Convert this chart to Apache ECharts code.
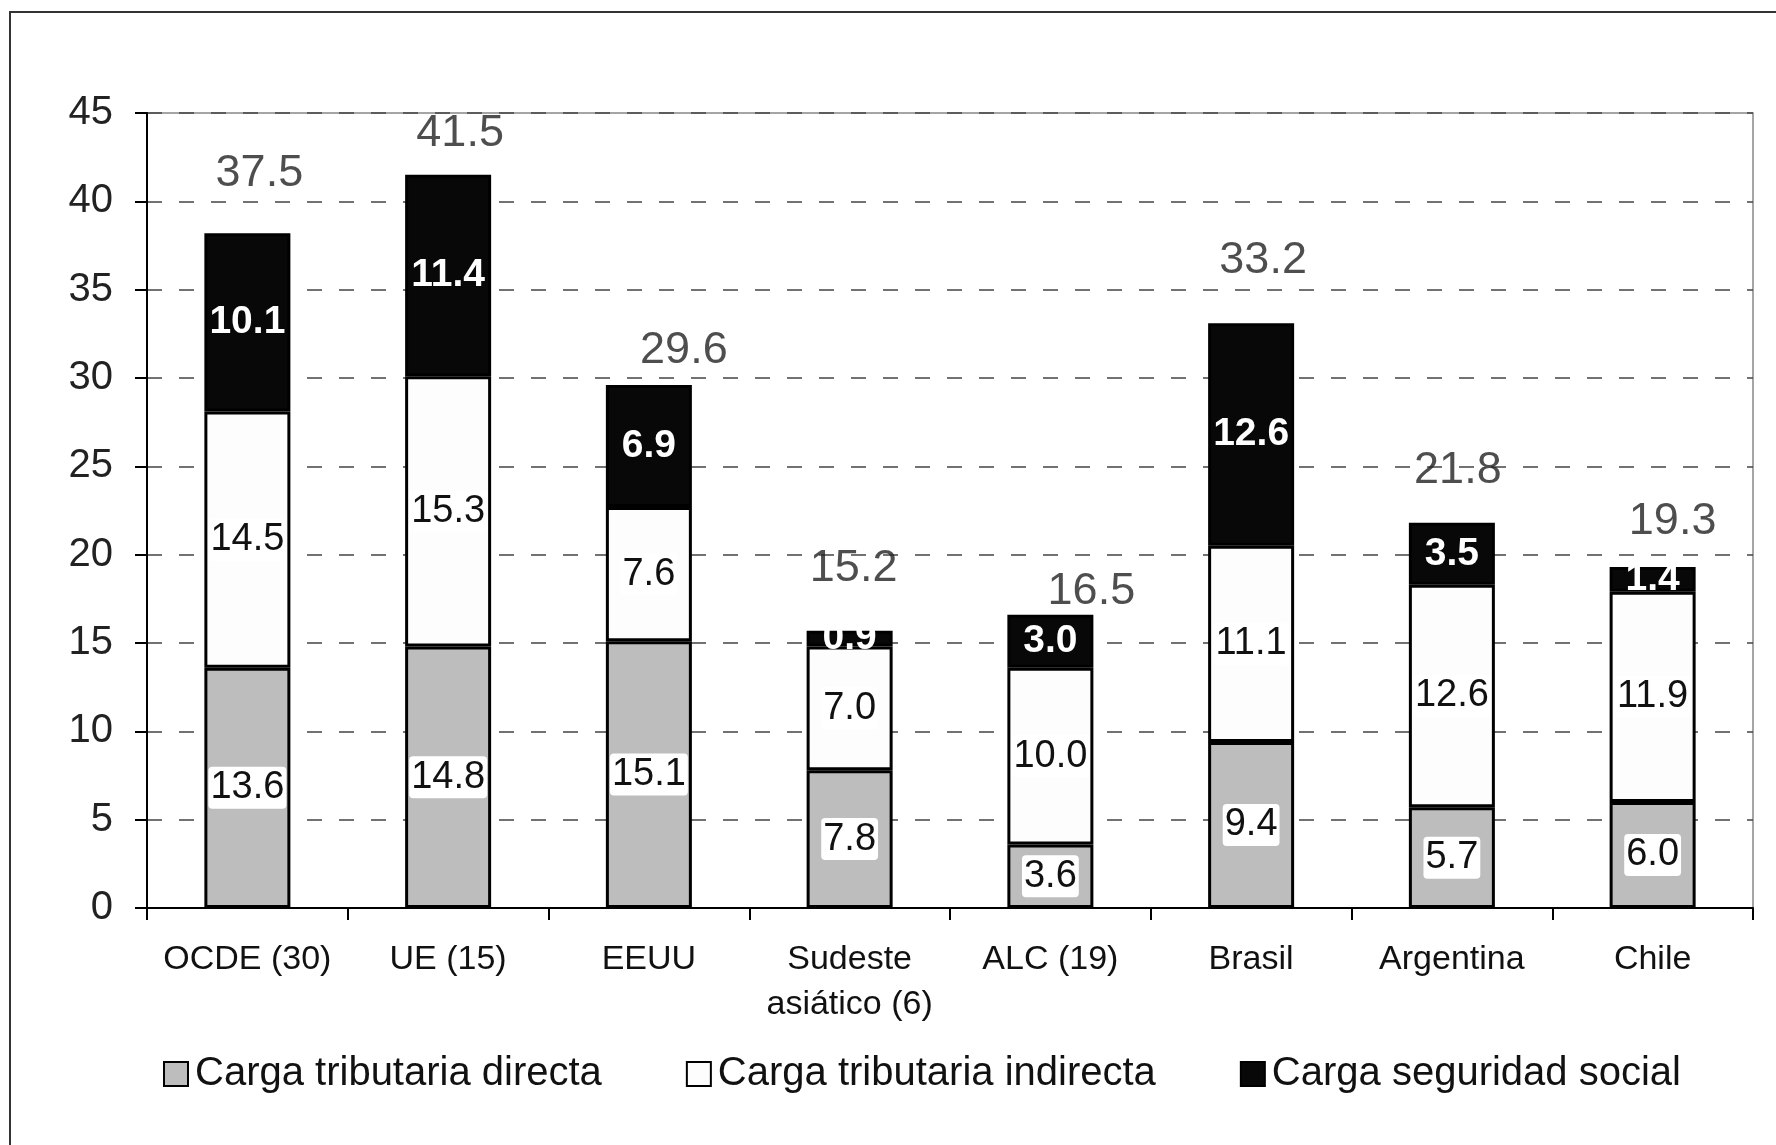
<!DOCTYPE html>
<html>
<head>
<meta charset="utf-8">
<script src="https://cdn.jsdelivr.net/npm/echarts@6/dist/echarts.min.js"></script>
<style>
  html, body { margin: 0; padding: 0; background: #fff; }
  #main { width: 1776px; height: 1145px; }
</style>
</head>
<body>
<div id="main"></div>
<script>
// datos
const paises = ['OCDE (30)', 'UE (15)', 'EEUU', 'Sudeste\nasiático (6)', 'ALC (19)', 'Brasil', 'Argentina', 'Chile'];
const directa = [13.6, 14.8, 15.1, 7.8, 3.6, 9.4, 5.7, 6.0];
const indirecta = [14.5, 15.3, 7.6, 7.0, 10.0, 11.1, 12.6, 11.9];
const seguridad = [10.1, 11.4, 6.9, 0.9, 3.0, 12.6, 3.5, 1.4];
const totales = [37.5, 41.5, 29.6, 15.2, 16.5, 33.2, 21.8, 19.3];
const yTicks = [0, 5, 10, 15, 20, 25, 30, 35, 40, 45];

// desplazamiento de las etiquetas de total (solo estilo)
const offsetTotal = [[12, -72], [12, -41], [35, -34], [4, -71], [41, -25], [12, -61], [6, -52], [20, -45]];

const FONT = '"Liberation Sans", Arial, sans-serif';

const chart = echarts.init(document.getElementById('main'));

const labelCaja = {
    show: true,
    position: 'inside',
    formatter: p => p.value.toFixed(1),
    fontFamily: FONT,
    fontSize: 38,
    color: '#111',
    backgroundColor: '#fff',
    padding: [3, 2, 1, 2],
    borderRadius: 4
};

const option = {
    animation: false,
    backgroundColor: '#fff',
    textStyle: { fontFamily: FONT },
    graphic: [{
        type: 'polyline',
        shape: { points: [[10, 1145], [10, 12], [1776, 12]] },
        style: { stroke: '#333', lineWidth: 2, fill: null },
        silent: true
    }],
    grid: {
        left: 147, right: 23, top: 113, bottom: 237,
        show: true, borderColor: '#888', borderWidth: 1.5
    },
    legend: {
        data: ['Carga tributaria directa', 'Carga tributaria indirecta', 'Carga seguridad social'],
        left: 158, top: 1049,
        icon: 'rect',
        itemWidth: 24, itemHeight: 24, itemGap: 84,
        textStyle: { fontFamily: FONT, fontSize: 40, color: '#111', padding: [0, 0, 0, 2] }
    },
    xAxis: {
        type: 'category',
        data: paises,
        axisLine: { lineStyle: { color: '#000', width: 2 } },
        axisTick: { show: true, length: 12, lineStyle: { color: '#000', width: 2 } },
        axisLabel: { fontFamily: FONT, fontSize: 34, color: '#111', lineHeight: 45, margin: 29, interval: 0 }
    },
    yAxis: {
        type: 'value',
        min: yTicks[0], max: yTicks[yTicks.length - 1], interval: 5,
        axisLine: { show: true, lineStyle: { color: '#000', width: 2 } },
        axisTick: { show: true, length: 12, lineStyle: { color: '#000', width: 2 } },
        axisLabel: { fontFamily: FONT, fontSize: 40, color: '#222', margin: 34 },
        splitLine: { lineStyle: { color: '#444', width: 1.5, type: [15, 17] } }
    },
    series: [
        {
            name: 'Carga tributaria directa', type: 'bar', stack: 'total', barWidth: 86,
            data: directa,
            itemStyle: { color: '#bdbdbd', borderColor: '#000', borderWidth: 3 },
            label: labelCaja
        },
        {
            name: 'Carga tributaria indirecta', type: 'bar', stack: 'total', barWidth: 86,
            data: indirecta,
            itemStyle: { color: '#fdfdfd', borderColor: '#000', borderWidth: 3 },
            label: labelCaja
        },
        {
            name: 'Carga seguridad social', type: 'bar', stack: 'total', barWidth: 86,
            data: seguridad,
            itemStyle: { color: '#080808', borderColor: '#000', borderWidth: 3 },
            label: {
                show: true, position: 'inside',
                formatter: p => p.value.toFixed(1),
                fontFamily: FONT, fontSize: 39, fontWeight: 'bold', color: '#fff'
            }
        },
        {
            name: 'Total', type: 'scatter', symbolSize: 0, silent: true, z: 10,
            data: totales.map((v, i) => ({
                value: v,
                label: { offset: offsetTotal[i] }
            })),
            label: {
                show: true, position: 'inside',
                formatter: p => p.value.toFixed(1),
                fontFamily: FONT, fontSize: 45, color: '#222'
            }
        }
    ]
};

chart.setOption(option);
</script>
</body>
</html>
